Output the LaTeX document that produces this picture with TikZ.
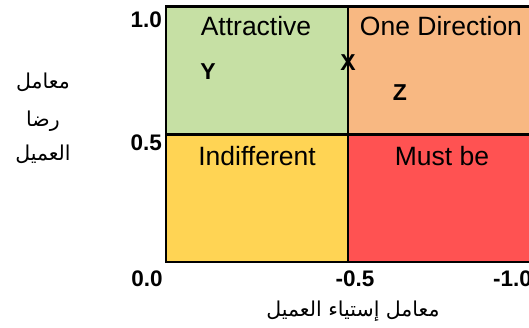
\documentclass[tikz,border=0pt]{standalone}
\usepackage{fontspec}
\setmainfont{Liberation Sans}
\newfontfamily\arabicfont[Script=Arabic]{DejaVu Sans}
\TeXXeTstate=1
\usetikzlibrary{positioning}
\definecolor{quadGreen}{RGB}{198,224,164}
\definecolor{quadOrange}{RGB}{248,184,130}
\definecolor{quadYellow}{RGB}{255,212,84}
\definecolor{quadRed}{RGB}{255,82,82}
\begin{document}
\begin{tikzpicture}[x=1pt,y=-1pt,
    quadBoxS/.style={rectangle,draw=none,minimum width=181pt,minimum height=127.5pt,inner sep=0pt},
    quadTextS/.style={font=\fontsize{26.5}{29}\selectfont,inner sep=0pt},
    axisNumS/.style={font=\fontsize{22.5}{26}\selectfont\bfseries,inner sep=0pt},
    pointS/.style={font=\fontsize{23}{26}\selectfont\bfseries,inner sep=0pt},
    arabS/.style={font=\fontsize{20.5}{24}\selectfont\arabicfont,inner sep=0pt},
    gridLineS/.style={line width=2.2pt,line cap=rect},
]
\clip (0,0) rectangle (529,327);
\fill[white] (0,0) rectangle (529,327);
% quadrants
\node[quadBoxS,fill=quadGreen] (quadA) at (257,70.5) {};
\node[quadBoxS,fill=quadOrange,minimum width=210pt] (quadO) at (452.5,70.5) {};
\node[quadBoxS,fill=quadYellow] (quadI) at (257,198) {};
\node[quadBoxS,fill=quadRed,minimum width=210pt] (quadM) at (452.5,198) {};
\draw[gridLineS] (quadI.south west) rectangle (quadO.north east);
\draw[gridLineS] (quadA.north east) -- (quadI.south east);
\draw[gridLineS] (quadA.south west) -- (quadO.south east);
% quadrant labels
\node[quadTextS] (txtA) at (256,26) {Attractive};
\node[quadTextS] (txtO) at (441,26) {One Direction};
\node[quadTextS] (txtI) at (257,156) {Indifferent};
\node[quadTextS] (txtM) at (442,156) {Must be};
% points
\node[pointS] (ptY) at (208,72) {Y};
\node[pointS] (ptX) at (348,63) {X};
\node[pointS] (ptZ) at (400,93) {Z};
% axis numbers
\node[axisNumS,anchor=east] (numTop) at (162,20) {1.0};
\node[axisNumS,anchor=east] (numMid) at (162,143) {0.5};
\node[axisNumS] (numZero) at (147,279) {0.0};
\node[axisNumS] (numHalf) at (355,279) {-0.5};
\node[axisNumS,anchor=west] (numOne) at (493,279) {-1.0};
% axis titles
\node[arabS] (ylabA) at (43,82) {\beginR معامل\endR};
\node[arabS] (ylabB) at (43,121) {\beginR رضا\endR};
\node[arabS] (ylabC) at (43,154) {\beginR العميل\endR};
\node[arabS] (xlab) at (353,311) {\beginR معامل إستياء العميل\endR};
\end{tikzpicture}
\end{document}
